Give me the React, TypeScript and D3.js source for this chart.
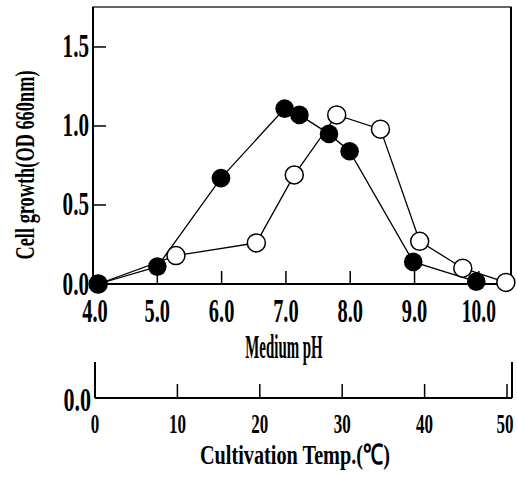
import * as d3 from "d3";

// values (pH, OD 660nm)
const filledPH = [4.08, 5.0, 5.99, 6.98, 7.21, 7.67, 7.99, 8.98, 9.96];
const filledOD = [0.0, 0.11, 0.67, 1.11, 1.07, 0.95, 0.84, 0.14, 0.015];
const openPH = [4.08, 5.29, 6.54, 7.13, 7.79, 8.47, 9.08, 9.75, 10.42];
const openOD = [0.0, 0.18, 0.26, 0.69, 1.07, 0.98, 0.27, 0.1, 0.01];

const phTicks = [4, 5, 6, 7, 8, 9, 10];
const odTicks = [0, 0.5, 1.0, 1.5];
const tempTicks = [0, 10, 20, 30, 40, 50];

const font = "'Liberation Serif', serif";
const charW = 8.7;

const T = ({ x, y, text, size, anchor = "middle", w = charW, rotate = 0 }) => (
  <text
    x={x}
    y={y}
    fontFamily={font}
    fontWeight="bold"
    fontSize={size}
    textAnchor={anchor}
    textLength={text.length * w}
    lengthAdjust="spacingAndGlyphs"
    transform={rotate ? `rotate(${rotate}, ${x}, ${y})` : undefined}
    fill="#000"
  >
    {text}
  </text>
);

export default function App() {
  const left = 93;
  const right = 511;
  const top = 7;
  const bottom = 284;

  const x = d3.scaleLinear().domain([4, 10.5]).range([left, right]);
  const y = d3.scaleLinear().domain([0, 1.753]).range([bottom, top]);

  const tLeft = 95;
  const tRight = 512;
  const tAxisY = 398;
  const xt = d3.scaleLinear().domain([0, 50]).range([tLeft, 507]);

  const line = d3
    .line()
    .x((d) => x(d[0]))
    .y((d) => y(d[1]));

  const filled = filledPH.map((p, i) => [p, filledOD[i]]);
  const open = openPH.map((p, i) => [p, openOD[i]]);

  return (
    <svg
      width={517}
      height={477}
      style={{ position: "absolute", left: 0, top: 0, background: "#fff" }}
    >
      {/* frame */}
      <rect x={left} y={top} width={right - left} height={bottom - top} fill="none" stroke="#000" strokeWidth={1.2} />
      <line x1={left} x2={left} y1={top} y2={bottom} stroke="#000" strokeWidth={2} />
      <line x1={left} x2={right} y1={bottom} y2={bottom} stroke="#000" strokeWidth={2} />
      <line x1={right} x2={right} y1={top} y2={bottom} stroke="#000" strokeWidth={2} />

      {/* y ticks */}
      {odTicks.map((t) => (
        <g key={t}>
          {t > 0 && <line x1={left} x2={left + 13} y1={y(t)} y2={y(t)} stroke="#000" strokeWidth={1.5} />}
          <T x={89} y={y(t) + 10.5} text={t.toFixed(1)} size={33} anchor="end" w={8.8} />
        </g>
      ))}

      {/* x ticks */}
      {phTicks.map((t) => (
        <g key={t}>
          {t > 4 && <line x1={x(t)} x2={x(t)} y1={bottom} y2={bottom - 13} stroke="#000" strokeWidth={1.5} />}
          <T x={t === 4 ? x(t) + 2 : x(t)} y={322} text={t.toFixed(1)} size={33} w={8.5} />
        </g>
      ))}

      <T x={284} y={358} text="Medium pH" size={33} w={8.6} />
      <T x={34} y={165} text="Cell growth(OD 660nm)" size={27} w={9} rotate={-90} />

      {/* series */}
      <path d={line(open)} fill="none" stroke="#000" strokeWidth={1.3} />
      <path d={line(filled)} fill="none" stroke="#000" strokeWidth={1.3} />
      {open.map((d, i) => (
        <circle key={"o" + i} cx={x(d[0])} cy={y(d[1])} r={9} fill="#fff" stroke="#000" strokeWidth={1.5} />
      ))}
      {filled.map((d, i) => (
        <circle key={"f" + i} cx={x(d[0])} cy={y(d[1])} r={9.3} fill="#000" />
      ))}

      {/* temperature axis */}
      <line x1={tLeft} x2={tRight} y1={tAxisY} y2={tAxisY} stroke="#000" strokeWidth={2} />
      <line x1={tLeft} x2={tLeft} y1={362} y2={tAxisY} stroke="#000" strokeWidth={2} />
      <line x1={tRight} x2={tRight} y1={362} y2={tAxisY} stroke="#000" strokeWidth={2} />
      {tempTicks.map((t) => (
        <g key={t}>
          {t > 0 && <line x1={xt(t)} x2={xt(t)} y1={tAxisY} y2={tAxisY - 14} stroke="#000" strokeWidth={1.5} />}
          <T x={t === 50 ? xt(t) - 2 : xt(t)} y={433} text={String(t)} size={27} w={8.5} />
        </g>
      ))}
      <T x={91} y={411} text="0.0" size={33} anchor="end" w={9.2} />
      <T x={295} y={464} text="Cultivation Temp.(℃)" size={28} w={9.5} />
    </svg>
  );
}
